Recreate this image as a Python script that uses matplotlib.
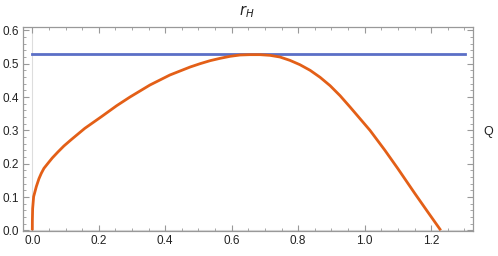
import numpy as np
import matplotlib.pyplot as plt
from matplotlib.ticker import MultipleLocator

# values
r_h = [0.0, 0.0002, 0.001, 0.004, 0.012, 0.02, 0.027, 0.035, 0.047, 0.06,
       0.077, 0.095, 0.117, 0.158, 0.208, 0.254, 0.294, 0.354, 0.414, 0.475,
       0.505, 0.535, 0.565, 0.595, 0.625, 0.655, 0.685, 0.715, 0.745, 0.775,
       0.805, 0.836, 0.866, 0.896, 0.926, 0.956, 1.016, 1.061, 1.1, 1.15,
       1.19, 1.229]
q = [0.0, 0.03, 0.065, 0.101, 0.131, 0.155, 0.171, 0.186, 0.201, 0.217,
     0.235, 0.253, 0.272, 0.306, 0.341, 0.374, 0.4, 0.436, 0.466, 0.49,
     0.5, 0.509, 0.516, 0.522, 0.526, 0.527, 0.527, 0.525, 0.52, 0.51,
     0.497, 0.48, 0.459, 0.434, 0.404, 0.37, 0.3, 0.24, 0.185, 0.112,
     0.055, 0.0]
flat_x = [0.0, 1.302]
flat_q = [0.528, 0.528]

plt.rcParams['font.family'] = ['Liberation Sans', 'DejaVu Sans']

fig = plt.figure(figsize=(4.98, 2.56), dpi=100)
ax = fig.add_axes([23/498, 25/256, 450/498, 204/256])

ax.axvline(0, color='#dddddd', lw=0.8, zorder=0)
ax.axhline(0, color='#dddddd', lw=0.8, zorder=0)

ax.plot(flat_x, flat_q, color='#5b6fc6', lw=2)
ax.plot(r_h, q, color='#e35f17', lw=2, solid_capstyle='butt',
        solid_joinstyle='round')

ax.set_xlim(-0.028, 1.326)
ax.set_ylim(-0.002, 0.61)

ax.xaxis.set_major_locator(MultipleLocator(0.2))
ax.xaxis.set_minor_locator(MultipleLocator(0.05))
ax.yaxis.set_major_locator(MultipleLocator(0.1))
ax.yaxis.set_minor_locator(MultipleLocator(0.02))
ax.xaxis.set_major_formatter(plt.FuncFormatter(lambda v, p: '%.1f' % v))
ax.yaxis.set_major_formatter(plt.FuncFormatter(lambda v, p: '%.1f' % v))

ax.tick_params(which='both', direction='in', top=True, right=True,
               color='#999999', labelsize=8.5, labelcolor='#222222')
ax.tick_params(which='major', length=4, width=0.8, pad=3)
ax.tick_params(which='minor', length=2, width=0.6)
for s in ax.spines.values():
    s.set_color('#999999')
    s.set_linewidth(0.9)

fig.text(247/498, 1 - 12/256, r'$r_H$', ha='center', va='center',
         fontsize=10.5, color='#222222')
fig.text(488/498, 1 - 132/256, 'Q', ha='center', va='center',
         fontsize=9, color='#222222')

fig.savefig('out.png', dpi=100)
